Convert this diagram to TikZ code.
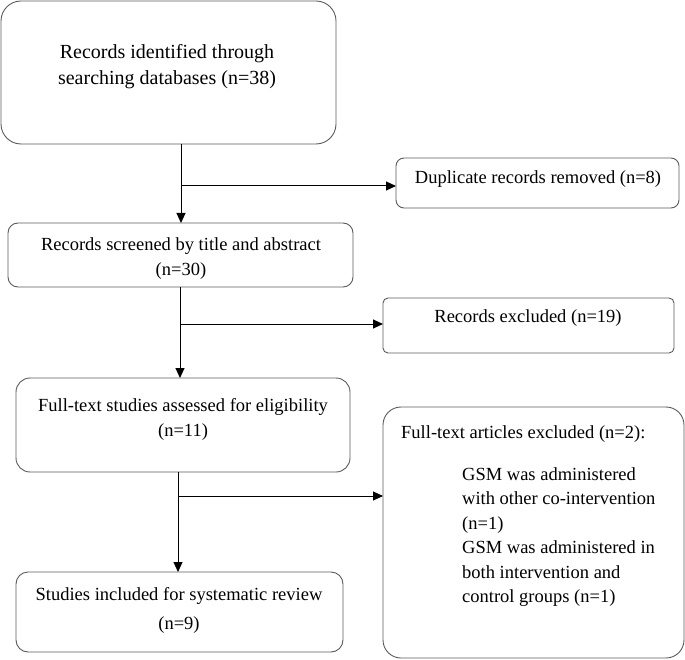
\documentclass[tikz,border=0pt]{standalone}
\usepackage{fontspec}
\setmainfont{Liberation Serif}
\usetikzlibrary{arrows.meta}
\definecolor{boxgray}{HTML}{5A5A5A}
\begin{document}
\begin{tikzpicture}[x=1pt,y=-1pt,
  box/.style={draw=boxgray, line width=0.9pt, inner sep=0pt, outer sep=0pt},
  txt/.style={font=\fontsize{18.5}{26}\selectfont, align=center, inner sep=0pt},
  arr/.style={draw=black, line width=1pt, -{Triangle[length=10pt,width=9pt]}}]
\useasboundingbox (0,0) rectangle (685,660);

% boxes
\node[box, rounded corners=20pt, minimum width=335pt, minimum height=143pt] (top) at (168.5,72.5) {};
\node[box, rounded corners=8pt, minimum width=283pt, minimum height=50pt] (dup) at (537.5,183) {};
\node[box, rounded corners=10pt, minimum width=345pt, minimum height=64pt] (scr) at (180.5,255) {};
\node[box, rounded corners=5pt, minimum width=291pt, minimum height=55pt] (exc) at (528.5,325.5) {};
\node[box, rounded corners=14pt, minimum width=334pt, minimum height=94pt] (full) at (183,425) {};
\node[box, rounded corners=18pt, minimum width=301pt, minimum height=251pt] (ftex) at (533.5,532.5) {};
\node[box, rounded corners=12pt, minimum width=327pt, minimum height=80pt] (stud) at (179.5,612) {};

% texts
\node[txt, font=\fontsize{20}{26}\selectfont] (ttop) at (167,66.5) {Records identified through\\searching databases (n=38)};
\node[txt] (tdup) at (538,179.5) {Duplicate records removed (n=8)};
\node[txt, font=\fontsize{18.5}{25}\selectfont] (tscr) at (181,259) {Records screened by title and abstract\\(n=30)};
\node[txt] (texc) at (528,318.5) {Records excluded (n=19)};
\node[txt, font=\fontsize{18.5}{25}\selectfont] (tfull) at (183,419) {Full-text studies assessed for eligibility\\(n=11)};
\node[txt, anchor=north west] (tftex) at (401,425) {Full-text articles excluded (n=2):};
\node[txt, align=left, anchor=north west, font=\fontsize{18.5}{24.4}\selectfont] (tgsm) at (462,467.5)
  {GSM was administered\\with other co-intervention\\(n=1)\\GSM was administered in\\both intervention and\\control groups (n=1)};
\node[txt, font=\fontsize{18.5}{29}\selectfont] (tstud) at (179,610) {Studies included for systematic review\\(n=9)};

% connectors
\coordinate (b1) at (181,186);
\coordinate (b2) at (180,324);
\coordinate (b3) at (178,496);
\draw[arr] (b1 |- top.south) -- (b1 |- scr.north);
\draw[arr] (b1) -- (b1 -| dup.west);
\draw[arr] (b2 |- scr.south) -- (b2 |- full.north);
\draw[arr] (b2) -- (b2 -| exc.west);
\draw[arr] (b3 |- full.south) -- (b3 |- stud.north);
\draw[arr] (b3) -- (b3 -| ftex.west);
\end{tikzpicture}
\end{document}
